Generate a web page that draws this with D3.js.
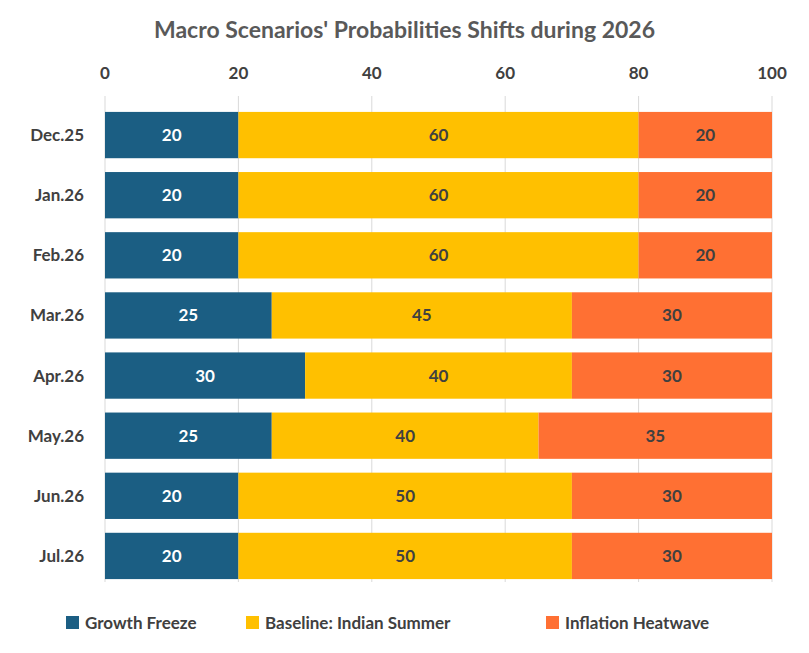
<!DOCTYPE html>
<html>
<head>
<meta charset="UTF-8">
<script src="https://d3js.org/d3.v7.min.js"></script>
<style>
  body { margin: 0; background: #fff; font-family: Lato, "Open Sans", sans-serif; }
</style>
</head>
<body>
<div id="chart"></div>
<script>
// Data
const months = ["Dec.25", "Jan.26", "Feb.26", "Mar.26", "Apr.26", "May.26", "Jun.26", "Jul.26"];
const growthFreeze = [20, 20, 20, 25, 30, 25, 20, 20];
const indianSummer = [60, 60, 60, 45, 40, 40, 50, 50];
const heatwave = [20, 20, 20, 30, 30, 35, 30, 30];
const seriesNames = ["Growth Freeze", "Baseline: Indian Summer", "Inflation Heatwave"];
const xTicks = [0, 20, 40, 60, 80, 100];

const W = 809, H = 653;
const colors = ["#1b5e83", "#ffc000", "#ff7033"];
const textColors = ["#ffffff", "#404040", "#404040"];

const rows = months.map((m, i) => ({ month: m, v: [growthFreeze[i], indianSummer[i], heatwave[i]] }));

const x = d3.scaleLinear().domain([0, 100]).range([105, 772]);
const y = d3.scaleBand().domain(months).range([105, 586]).paddingInner(0.23).paddingOuter(0.115);

const svg = d3.select("#chart").append("svg").attr("width", W).attr("height", H);

svg.append("text").attr("x", W / 2).attr("y", 38).attr("text-anchor", "middle")
  .attr("fill", "#595959").attr("font-size", 23).attr("font-weight", "bold")
  .text("Macro Scenarios' Probabilities Shifts during 2026");

// grid
svg.append("g").selectAll("line").data(xTicks).join("line")
  .attr("x1", d => x(d)).attr("x2", d => x(d)).attr("y1", 96).attr("y2", 582)
  .attr("stroke", "#d9d9d9").attr("stroke-width", 1);

// top axis labels
svg.append("g").selectAll("text").data(xTicks).join("text")
  .attr("x", d => x(d)).attr("y", 79).attr("text-anchor", "middle")
  .attr("fill", "#404040").attr("font-size", 17).attr("font-weight", "bold")
  .text(d => d);

// category labels
svg.append("g").selectAll("text").data(months).join("text")
  .attr("x", 84).attr("y", d => y(d) + y.bandwidth() / 2).attr("dy", "0.35em")
  .attr("text-anchor", "end").attr("fill", "#404040").attr("font-size", 17).attr("font-weight", "bold")
  .text(d => d);

// bars
const g = svg.append("g");
rows.forEach(r => {
  let acc = 0;
  r.v.forEach((v, k) => {
    const x0 = acc; acc += v;
    g.append("rect").attr("x", x(x0)).attr("y", y(r.month))
      .attr("width", x(acc) - x(x0)).attr("height", y.bandwidth()).attr("fill", colors[k]);
    g.append("text").attr("x", (x(x0) + x(acc)) / 2).attr("y", y(r.month) + y.bandwidth() / 2)
      .attr("dy", "0.35em").attr("text-anchor", "middle").attr("fill", textColors[k])
      .attr("font-size", 17).attr("font-weight", "bold").text(v);
  });
});

// legend
const legX = [66, 246, 546];
const leg = svg.append("g").selectAll("g").data(seriesNames).join("g")
  .attr("transform", (d, i) => `translate(${legX[i]},623)`);
leg.append("rect").attr("x", 0).attr("y", -7).attr("width", 13).attr("height", 13).attr("fill", (d, i) => colors[i]);
leg.append("text").attr("x", 19).attr("dy", "0.35em").attr("fill", "#404040")
  .attr("font-size", 17).attr("font-weight", "bold").text(d => d);
</script>
</body>
</html>
